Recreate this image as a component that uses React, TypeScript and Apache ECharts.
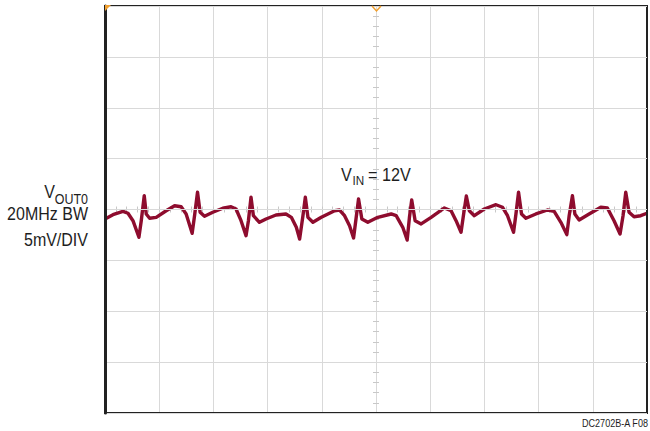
import React, { useEffect, useRef } from "react";
import * as echarts from "echarts";

// time in divisions (0..10), VOUT0 ripple in mV (5 mV/div)
const timeDiv = [
  0, 0.147, 0.331, 0.424, 0.516, 0.626, 0.669, 0.724, 0.761, 0.823, 0.945,
  1.129, 1.284, 1.405, 1.497, 1.608, 1.652, 1.707, 1.755, 1.836, 1.989,
  2.173, 2.326, 2.418, 2.51, 2.602, 2.646, 2.694, 2.738, 2.849, 2.971,
  3.155, 3.339, 3.438, 3.53, 3.591, 3.652, 3.696, 3.744, 3.836, 3.991,
  4.236, 4.328, 4.42, 4.512, 4.586, 4.635, 4.678, 4.739, 4.849, 5.033,
  5.28, 5.372, 5.494, 5.575, 5.617, 5.659, 5.722, 5.833, 6.017, 6.262,
  6.385, 6.477, 6.569, 6.617, 6.667, 6.722, 6.814, 6.998, 7.214, 7.335,
  7.427, 7.538, 7.582, 7.63, 7.685, 7.766, 7.95, 8.164, 8.287, 8.411,
  8.521, 8.564, 8.624, 8.669, 8.748, 8.932, 9.147, 9.269, 9.392, 9.503,
  9.558, 9.608, 9.669, 9.761, 9.884, 10,
];
const voutMv = [
  -0.93, -0.51, -0.18, -0.37, -1.1, -2.73, -1.1, 1.36, -0.44, -0.86, -0.77,
  -0.12, 0.37, 0.27, -0.44, -2.34, -0.61, 1.69, -0.27, -0.67, -0.27,
  0.12, 0.27, 0.05, -1.1, -2.57, -1.1, 1.2, -0.61, -1.26, -0.93,
  -0.54, -0.44, -0.77, -1.75, -2.9, -0.61, 1.2, -0.77, -1.26, -0.77,
  -0.12, -0.05, -0.61, -1.59, -2.8, -0.77, 1.03, -0.93, -1.26, -0.77,
  -0.44, -0.61, -1.75, -3.0, -0.77, 0.93, -1.1, -1.42, -0.77, 0.15,
  -0.12, -1.1, -2.24, -0.44, 1.33, -0.12, -0.61, 0.05, 0.47, 0.22,
  -0.61, -2.24, -0.44, 1.69, -0.44, -0.86, -0.44, -0.05, -0.18, -1.26,
  -2.47, -0.61, 1.36, -0.44, -1.03, -0.44, 0.22, 0.15, -1.1, -2.41,
  -0.61, 1.69, -0.27, -0.71, -0.61, -0.37,
];

const xMin = 0;
const xMax = 10;
const yMin = -20;
const yMax = 20;
const yStep = 5;

const leftLabels = ["20MHz BW", "5mV/DIV"];
const voutMain = "V";
const voutSub = "OUT0";
const vinMain = "V";
const vinSub = "IN";
const vinValue = "= 12V";
const figureId = "DC2702B-A F08";

const FONT = "'Liberation Sans', Arial, sans-serif";
const TXT = "#1e1e1e";
const GRID_C = "#d9d9d9";
const TICK_C = "#c8c8c8";
const TRACE_C = "#8e0c2e";
const ORANGE = "#f0a030";

function label(text: string, x: number, y: number, size: number, align: string, sx: number) {
  return {
    type: "text",
    x,
    y,
    scaleX: sx,
    z: 30,
    style: { text, fontFamily: FONT, fontSize: size, fill: TXT, align, verticalAlign: "bottom" },
  };
}

export default function App() {
  const ref = useRef<HTMLDivElement>(null);
  useEffect(() => {
    if (!ref.current) return;
    const chart = echarts.init(ref.current, undefined, { renderer: "svg" });
    const points = timeDiv.map((t, i) => [t, voutMv[i]]);
    const centerTickAxisX = (inside: boolean) => ({
      type: "value",
      min: xMin,
      max: xMax,
      interval: 1,
      axisLine: { show: false, onZero: true, onZeroAxisIndex: 0 },
      axisTick: { show: true, inside, length: 3, lineStyle: { color: TICK_C } },
      minorTick: { show: true, splitNumber: 5, length: 3, lineStyle: { color: TICK_C } },
      axisLabel: { show: false },
      splitLine: { show: false },
    });
    const centerTickAxisY = (inside: boolean) => ({
      type: "value",
      min: yMin,
      max: yMax,
      interval: yStep,
      position: "left",
      offset: -271,
      axisLine: { show: false, onZero: false },
      axisTick: { show: true, inside, length: 3, lineStyle: { color: TICK_C } },
      minorTick: { show: true, splitNumber: 5, length: 3, lineStyle: { color: TICK_C } },
      axisLabel: { show: false },
      splitLine: { show: false },
    });
    chart.setOption({
      animation: false,
      backgroundColor: "#ffffff",
      grid: {
        left: 105,
        right: 3,
        top: 6,
        bottom: 18,
        show: true,
        borderColor: "#222222",
        borderWidth: 2,
        z: 10,
      },
      xAxis: [
        {
          type: "value",
          min: xMin,
          max: xMax,
          interval: 1,
          axisLine: { show: false },
          axisTick: { show: false },
          axisLabel: { show: false },
          splitLine: { show: true, lineStyle: { color: GRID_C, width: 1 } },
        },
        centerTickAxisX(true),
        centerTickAxisX(false),
      ],
      yAxis: [
        {
          type: "value",
          min: yMin,
          max: yMax,
          interval: yStep,
          axisLine: { show: true, onZero: false, lineStyle: { color: "#222222", width: 3 } },
          axisTick: { show: false },
          axisLabel: { show: false },
          splitLine: { show: true, lineStyle: { color: GRID_C, width: 1 } },
          z: 12,
        },
        centerTickAxisY(true),
        centerTickAxisY(false),
      ],
      series: [
        {
          type: "line",
          data: points,
          xAxisIndex: 0,
          yAxisIndex: 0,
          showSymbol: false,
          lineStyle: { color: TRACE_C, width: 3.4, join: "round" },
          z: 5,
        },
      ],
      graphic: [
        {
          type: "polygon",
          shape: { points: [[105, 5], [111, 5], [105, 11]] },
          style: { fill: ORANGE },
          z: 40,
        },
        {
          type: "polyline",
          shape: { points: [[372, 6], [376.5, 11], [381, 6]] },
          style: { stroke: ORANGE, lineWidth: 1.5, fill: "none" },
          z: 40,
        },
        label(voutSub, 88, 206, 14, "right", 0.89),
        label(voutMain, 55, 201, 18, "right", 0.89),
        label(leftLabels[0], 88, 223, 18, "right", 0.89),
        label(leftLabels[1], 88, 249, 18, "right", 0.89),
        label(vinMain, 341, 184, 18, "left", 0.9),
        label(vinSub, 352.5, 187.5, 13, "left", 0.9),
        label(vinValue, 368, 184, 18, "left", 0.9),
        label(figureId, 648, 429, 11, "right", 0.825),
      ],
    });
    return () => chart.dispose();
  }, []);
  return <div ref={ref} style={{ width: 650, height: 431, position: "absolute", left: 0, top: 0 }} />;
}
